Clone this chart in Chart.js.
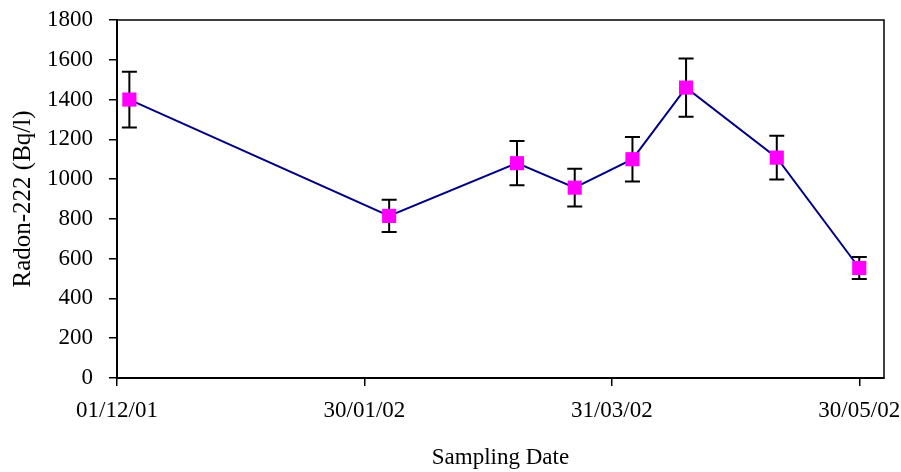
<!DOCTYPE html>
<html>
<head>
<meta charset="utf-8">
<script src="https://cdn.jsdelivr.net/npm/chart.js@4/dist/chart.umd.min.js"></script>
<style>
  html, body { margin: 0; padding: 0; background: #fff; }
  #wrap { width: 901px; height: 472px; }
</style>
</head>
<body>
<div id="wrap"><canvas id="chart"></canvas></div>
<script>
// sampling dates and measured radon (Bq/l) with error bars
const sampleDates = ['2001-12-04', '2002-02-05', '2002-03-08', '2002-03-22', '2002-04-05', '2002-04-18', '2002-05-10', '2002-05-30'];
const radonValues = [1400, 815, 1080, 957, 1100, 1460, 1108, 553];
const radonErrors = [140, 81, 111, 95, 112, 146, 110, 55];
const xTickDates = ['2001-12-01', '2002-01-30', '2002-03-31', '2002-05-30'];
const axisStart = '2001-12-01';
const axisEnd = '2002-06-05';

const DAY = 86400000;
const toDay = s => (Date.parse(s + 'T00:00:00Z') - Date.parse(axisStart + 'T00:00:00Z')) / DAY;
const fmtDay = d => {
  const dt = new Date(Date.parse(axisStart + 'T00:00:00Z') + d * DAY);
  const p = n => String(n).padStart(2, '0');
  return p(dt.getUTCDate()) + '/' + p(dt.getUTCMonth() + 1) + '/' + p(dt.getUTCFullYear() % 100);
};

const points = sampleDates.map((d, i) => ({ x: toDay(d), y: radonValues[i] }));

const errorBars = {
  id: 'errorBars',
  beforeDatasetsDraw(chart) {
    const { ctx, scales: { x, y } } = chart;
    ctx.save();
    ctx.strokeStyle = '#000';
    ctx.lineWidth = 2;
    points.forEach((p, i) => {
      const px = x.getPixelForValue(p.x);
      const top = y.getPixelForValue(p.y + radonErrors[i]);
      const bot = y.getPixelForValue(p.y - radonErrors[i]);
      ctx.beginPath();
      ctx.moveTo(px, top); ctx.lineTo(px, bot);
      ctx.moveTo(px - 7.5, top); ctx.lineTo(px + 7.5, top);
      ctx.moveTo(px - 7.5, bot); ctx.lineTo(px + 7.5, bot);
      ctx.stroke();
    });
    ctx.restore();
  }
};

const frame = {
  id: 'frame',
  afterDraw(chart) {
    const { ctx, chartArea: a } = chart;
    ctx.save();
    ctx.strokeStyle = '#000';
    ctx.lineWidth = 1.5;
    ctx.strokeRect(a.left, a.top, a.right - a.left, a.bottom - a.top);
    ctx.restore();
  }
};

const serif = '"Liberation Serif", "Times New Roman", serif';
const font = { family: serif, size: 23 };

new Chart(document.getElementById('chart'), {
  type: 'line',
  data: {
    datasets: [{
      data: points,
      borderColor: '#000080',
      borderWidth: 2,
      backgroundColor: '#FF00FF',
      pointStyle: 'rect',
      pointRadius: 10,
      pointBorderWidth: 0,
      pointBackgroundColor: '#FF00FF',
      tension: 0
    }]
  },
  options: {
    responsive: true,
    maintainAspectRatio: false,
    animation: false,
    layout: { padding: { top: 20, right: 17, left: 0, bottom: 0 } },
    plugins: { legend: { display: false }, tooltip: { enabled: false } },
    scales: {
      x: {
        type: 'linear',
        min: 0,
        max: toDay(axisEnd),
        afterBuildTicks: s => { s.ticks = xTickDates.map(d => ({ value: toDay(d) })); },
        afterFit: s => { s.height = 94; s.paddingLeft = 0; s.paddingRight = 0; },
        ticks: { callback: v => fmtDay(v), color: '#000', font, padding: 11, maxRotation: 0, autoSkip: false },
        grid: { drawOnChartArea: false, color: '#000', lineWidth: 1.5, tickLength: 8 },
        border: { color: '#000', width: 2 },
        title: { display: true, text: 'Sampling Date', color: '#000', font, padding: { top: 0, bottom: 0 } }
      },
      y: {
        min: 0,
        max: 1800,
        afterFit: s => { s.width = 117; s.paddingTop = 0; s.paddingBottom = 0; },
        ticks: { stepSize: 200, callback: v => String(v), color: '#000', font, padding: 16 },
        grid: { drawOnChartArea: false, color: '#000', lineWidth: 1.5, tickLength: 8 },
        border: { color: '#000', width: 2 },
        title: { display: true, text: 'Radon-222 (Bq/l)', color: '#000', font: { family: serif, size: 25 }, padding: { top: 8, bottom: 0 } }
      }
    }
  },
  plugins: [errorBars, frame]
});
</script>
</body>
</html>
